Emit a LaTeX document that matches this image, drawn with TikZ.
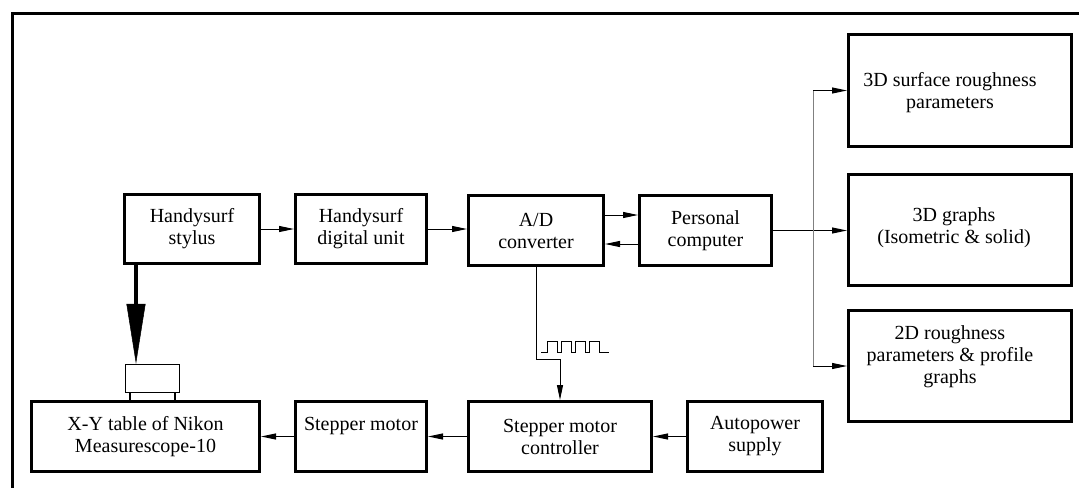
\documentclass[tikz,border=0pt]{standalone}
\usepackage{fontspec}
\setmainfont{Liberation Serif}
\usetikzlibrary{arrows.meta}
\tikzset{
  blk/.style={draw, line width=3pt, inner sep=0pt, align=center,
    font=\fontsize{20}{22}\selectfont},
  lbl/.style={align=center, font=\fontsize{20}{22}\selectfont},
  conn/.style={line width=1pt, -{Triangle[length=15pt,width=6pt]}},
  frameline/.style={line width=3pt},
}
\begin{document}
\begin{tikzpicture}[x=1pt,y=-1pt]
\useasboundingbox (0,0) rectangle (1079,488);
\draw[frameline] (1079,13.5) -- (12.5,13.5) -- (12.5,488);
% top row
\node[blk, minimum width=135, minimum height=69] (stylus) at (192,229) {Handysurf\\stylus};
\node[blk, minimum width=131, minimum height=69] (digital) at (361,229) {Handysurf\\digital unit};
\node[blk, minimum width=135, minimum height=70] (adc) at (536,230.5) {A/D\\converter};
\node[blk, minimum width=132, minimum height=70] (pc) at (705.5,230.5) {Personal\\computer};
% right column
\node[blk, minimum width=223, minimum height=112,
  label={[lbl,xshift=-10pt,yshift=-2pt]center:3D surface roughness\\parameters}] (s3d) at (960,90.5) {};
\node[blk, minimum width=223, minimum height=111,
  label={[lbl,xshift=-6pt,yshift=2pt]center:3D graphs\\(Isometric \& solid)}] (g3d) at (960,230) {};
\node[blk, minimum width=223, minimum height=111,
  label={[lbl,xshift=-10pt,yshift=9pt]center:2D roughness\\parameters \& profile\\graphs}] (r2d) at (960,366) {};
% bottom row
\node[blk, minimum width=228, minimum height=70] (xy) at (145.5,436.5) {X-Y table of Nikon\\Measurescope-10};
\node[blk, minimum width=131, minimum height=70,
  label={[lbl,yshift=11pt]center:Stepper motor}] (motor) at (361,436.5) {};
\node[blk, minimum width=183, minimum height=70] (ctrl) at (560,436.5) {Stepper motor\\controller};
\node[blk, minimum width=135, minimum height=70] (power) at (755,436.5) {Autopower\\supply};
% probe block
\node[draw, line width=1.3pt, minimum width=54, minimum height=28, inner sep=0pt] (probe) at (152.5,378.5) {};
\draw[line width=1.3pt] ([xshift=-22.5pt]probe.south) -- ([xshift=-22.5pt]probe.south |- xy.north);
\draw[line width=1.3pt] ([xshift=22.5pt]probe.south) -- ([xshift=22.5pt]probe.south |- xy.north);
\coordinate (bigtop) at (136,265);
\draw[line width=3.5pt, -{Triangle[length=60pt,width=19pt,line width=0.5pt]}] (bigtop) -- (bigtop |- probe.north);
% connectors
\draw[conn] (stylus.east) -- (stylus.east -| digital.west);
\draw[conn] (digital.east) -- (digital.east -| adc.west);
\draw[conn] ([yshift=15.5pt]adc.east) -- ([yshift=15.5pt]adc.east -| pc.west);
\draw[conn] ([yshift=-13.5pt]pc.west) -- ([yshift=-13.5pt]pc.west -| adc.east);
\draw[conn] (pc.east) -- (pc.east -| g3d.west);
\coordinate (br) at (813,230);
\draw[line width=1pt, gray] (br |- s3d.west) -- (br |- r2d.west);
\draw[conn] (br |- s3d.west) -- (s3d.west);
\draw[conn] (br |- r2d.west) -- (r2d.west);
\coordinate (kink) at (560,359);
\draw[conn] (adc.south) |- (kink) -- (ctrl.north);
\draw[line width=1pt] (541,352) -- (547,352) -- (547,341) -- (557,341) -- (557,352)
  -- (561,352) -- (561,341) -- (571,341) -- (571,352)
  -- (575,352) -- (575,341) -- (585,341) -- (585,352)
  -- (589,352) -- (589,341) -- (599,341) -- (599,352) -- (609,352);
\draw[conn] (motor.west) -- (xy.east);
\draw[conn] (ctrl.west) -- (motor.east);
\draw[conn] (power.west) -- (ctrl.east);
\end{tikzpicture}
\end{document}
